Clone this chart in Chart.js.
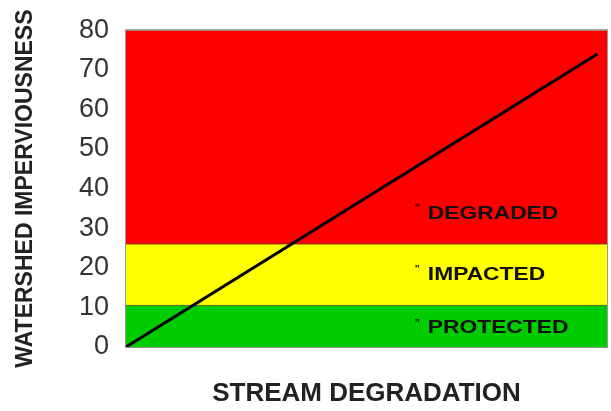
<!DOCTYPE html>
<html>
<head>
<meta charset="utf-8">
<script src="https://cdn.jsdelivr.net/npm/chart.js@4"></script>
<style>
  html, body { margin: 0; padding: 0; background: #fff; }
  #wrap { width: 611px; height: 406px; padding-top: 5px; }
</style>
</head>
<body>
<div id="wrap"><canvas id="stream"></canvas></div>
<script>
// values
const yTickValues = [0, 10, 20, 30, 40, 50, 60, 70, 80];
const bandNames = ["PROTECTED", "IMPACTED", "DEGRADED"];
const bandTops = [10.5, 26, 80];
const bandColors = ["#00cc00", "#ffff00", "#ff0000"];
const labelYs = [5, 18.5, 34];
const labelX = 60;
const trendX = [0, 98];
const trendY = [0, 74];

const bandSets = bandNames.map(function (name, i) {
  return {
    label: name,
    data: [{ x: 0, y: bandTops[i] }, { x: 100, y: bandTops[i] }],
    borderColor: "rgba(60, 60, 20, 0.7)",
    borderWidth: 1,
    backgroundColor: bandColors[i],
    fill: i === 0 ? "origin" : "-1",
    pointRadius: 0,
    order: 2,
  };
});

const trendSet = {
  label: "trend",
  data: trendX.map(function (x, i) { return { x: x, y: trendY[i] }; }),
  borderColor: "#000",
  borderWidth: 3,
  pointRadius: 0,
  fill: false,
  order: 0,
};

// band names written inside the chart, plus the frame round the plot
const bandLabels = {
  id: "bandLabels",
  afterDatasetsDraw(chart) {
    const ctx = chart.ctx;
    const xs = chart.scales.x, ys = chart.scales.y;
    const a = chart.chartArea;
    ctx.save();
    ctx.strokeStyle = "#999";
    ctx.lineWidth = 1;
    ctx.strokeRect(a.left - 0.5, a.top - 0.5, a.right - a.left + 1, a.bottom - a.top + 1);
    ctx.fillStyle = "#111";
    ctx.textBaseline = "middle";
    bandNames.forEach(function (name, i) {
      const px = xs.getPixelForValue(labelX);
      const py = ys.getPixelForValue(labelYs[i]);
      ctx.save();
      ctx.translate(px, py);
      ctx.scale(1.2, 1);
      ctx.font = "bold 9px 'Liberation Sans', Arial, sans-serif";
      ctx.fillText("\u201D", 0, -5);
      ctx.font = "bold 19px 'Liberation Sans', Arial, sans-serif";
      ctx.fillText(name, 11, 1);
      ctx.restore();
    });
    ctx.restore();
  },
};

new Chart(document.getElementById("stream"), {
  type: "line",
  data: { datasets: bandSets.concat([trendSet]) },
  options: {
    responsive: true,
    maintainAspectRatio: false,
    animation: false,
    layout: { padding: { top: 12, right: 4, left: 12, bottom: 2 } },
    plugins: {
      legend: { display: false },
      tooltip: { enabled: false },
    },
    scales: {
      x: {
        type: "linear",
        min: 0,
        max: 100,
        grid: { display: false },
        border: { display: false },
        ticks: { display: false },
        title: {
          display: true,
          text: "STREAM DEGRADATION",
          color: "#222",
          font: { family: "'Liberation Sans', Arial, sans-serif", size: 26, weight: "bold" },
          padding: { top: 28, bottom: 0 },
        },
        afterFit(scale) { scale.height = 62; },
      },
      y: {
        min: 0,
        max: 80,
        afterBuildTicks(scale) {
          scale.ticks = yTickValues.map(function (v) { return { value: v }; });
        },
        grid: { display: false },
        border: { display: false },
        ticks: {
          color: "#333",
          padding: 9,
          font: { family: "'Liberation Sans', Arial, sans-serif", size: 27 },
        },
        title: {
          display: true,
          text: "WATERSHED IMPERVIOUSNESS",
          color: "#222",
          font: { family: "'Liberation Sans', Arial, sans-serif", size: 23, weight: "bold" },
          padding: { top: 0, bottom: 10 },
        },
        afterFit(scale) { scale.width = 114; },
      },
    },
  },
  plugins: [bandLabels],
});
</script>
</body>
</html>
